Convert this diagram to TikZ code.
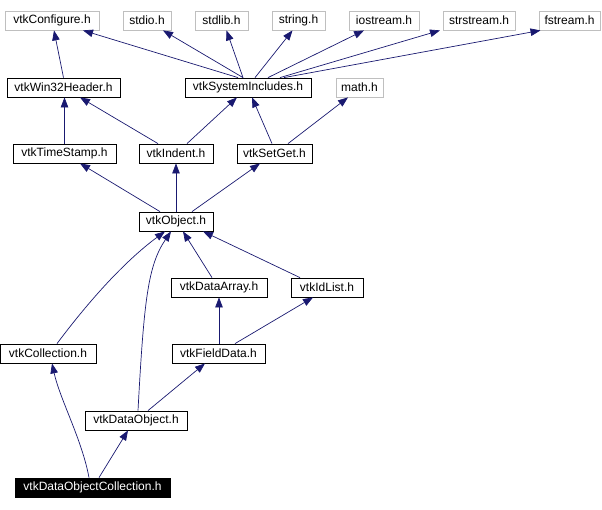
\documentclass[tikz,border=0pt]{standalone}
\usepackage{fontspec}
\setmainfont{Liberation Sans}
\usetikzlibrary{arrows.meta}
\definecolor{edgeblue}{HTML}{191970}
\definecolor{boxgray}{HTML}{BFBFBF}

\begin{document}
\begin{tikzpicture}[
    x=1pt, y=-1pt,
    % Estilo para las cabeceras del proyecto
    filebox/.style={
        draw=black,
        line width=0.8pt,
        fill=white,
        minimum height=19pt,
        inner sep=0pt,
        font=\fontsize{12}{14}\selectfont
    },
    % Estilo para las cabeceras del sistema (borde gris)
    sysbox/.style={
        filebox,
        draw=boxgray
    },
    % Estilo para la cabecera principal
    mainbox/.style={
        filebox,
        fill=black,
        text=white
    },
    % Estilo para las dependencias
    dep/.style={
        draw=edgeblue,
        line width=0.7pt,
        -{Triangle[length=10pt,width=7.5pt]}
    }
]
    \useasboundingbox (0,0) rectangle (602,509);

    % ==========================================
    % CABECERAS DEL SISTEMA (FILA SUPERIOR)
    % ==========================================
    \node[sysbox, minimum width=94pt] (configure) at (52, 20.5) {vtkConfigure.h};
    \node[sysbox, minimum width=48pt] (stdio) at (147, 20.5) {stdio.h};
    \node[sysbox, minimum width=53pt] (stdlib) at (221.5, 20.5) {stdlib.h};
    \node[sysbox, minimum width=53pt] (string) at (298.5, 20.5) {string.h};
    \node[sysbox, minimum width=70pt] (iostream) at (384, 20.5) {iostream.h};
    \node[sysbox, minimum width=72pt] (strstream) at (479, 20.5) {strstream.h};
    \node[sysbox, minimum width=61pt] (fstream) at (569.5, 20.5) {fstream.h};

    % ==========================================
    % SEGUNDA FILA
    % ==========================================
    \node[filebox, minimum width=113pt] (win32) at (63.5, 87.5) {vtkWin32Header.h};
    \node[filebox, minimum width=126pt] (sysinc) at (248, 87.5) {vtkSystemIncludes.h};
    \node[sysbox, minimum width=47pt] (math) at (359.5, 87.5) {math.h};

    % Dependencias hacia la fila superior
    \draw[dep] (win32.north) -- ([xshift=2pt]configure.south);
    \draw[dep] ([xshift=-10pt]sysinc.north) -- ([xshift=31pt]configure.south);
    \draw[dep] ([xshift=-5pt]sysinc.north) -- ([xshift=16pt]stdio.south);
    \draw[dep] ([xshift=-5pt]sysinc.north) -- ([xshift=5pt]stdlib.south);
    \draw[dep] ([xshift=7pt]sysinc.north) -- ([xshift=-6pt]string.south);
    \draw[dep] ([xshift=20pt]sysinc.north) -- ([xshift=-20pt]iostream.south);
    \draw[dep] ([xshift=32pt]sysinc.north) -- ([xshift=-39pt]strstream.south);
    \draw[dep] ([xshift=36pt]sysinc.north) -- ([xshift=-29pt]fstream.south);

    % ==========================================
    % TERCERA FILA
    % ==========================================
    \node[filebox, minimum width=103pt] (timestamp) at (64.5, 153.5) {vtkTimeStamp.h};
    \node[filebox, minimum width=74pt] (indent) at (176, 153.5) {vtkIndent.h};
    \node[filebox, minimum width=75pt] (setget) at (274.5, 153.5) {vtkSetGet.h};

    \draw[dep] (timestamp.north) -- (timestamp.north |- win32.south);
    \draw[dep] ([xshift=-18pt]indent.north) -- ([xshift=16.5pt]win32.south);
    \draw[dep] ([xshift=11pt]indent.north) -- ([xshift=-11pt]sysinc.south);
    \draw[dep] ([xshift=-2.5pt]setget.north) -- ([xshift=4pt]sysinc.south);
    \draw[dep] ([xshift=13.5pt]setget.north) -- ([xshift=-11.5pt]math.south);

    % ==========================================
    % vtkObject
    % ==========================================
    \node[filebox, minimum width=74pt] (object) at (176, 221.5) {vtkObject.h};

    \draw[dep] ([xshift=-16pt]object.north) -- ([xshift=15.5pt]timestamp.south);
    \draw[dep] (object.north) -- (indent.south);
    \draw[dep] ([xshift=16pt]object.north) -- ([xshift=-14.5pt]setget.south);

    % ==========================================
    % CLASES DERIVADAS
    % ==========================================
    \node[filebox, minimum width=96pt] (dataarray) at (219, 287.5) {vtkDataArray.h};
    \node[filebox, minimum width=72pt] (idlist) at (327, 287.5) {vtkIdList.h};
    \node[filebox, minimum width=96pt] (collection) at (48, 353.5) {vtkCollection.h};
    \node[filebox, minimum width=93pt] (fielddata) at (218.5, 353.5) {vtkFieldData.h};
    \node[filebox, minimum width=102pt] (dataobject) at (136, 420.5) {vtkDataObject.h};
    \node[mainbox, minimum width=155pt] (doc) at (92.5, 487.5) {vtkDataObjectCollection.h};

    \draw[dep] ([xshift=-7pt]dataarray.north) -- ([xshift=7pt]object.south);
    \draw[dep] ([xshift=-27pt]idlist.north) -- ([xshift=27pt]object.south);
    \draw[dep] ([xshift=9pt]collection.north) .. controls +(18,-24) and +(-50,37) .. ([xshift=-11pt]object.south);
    \draw[dep] ([xshift=2pt]dataobject.north) .. controls +(6,-111) and +(-23,34) .. ([xshift=-5pt]object.south);
    \draw[dep] ([xshift=0.5pt]fielddata.north) -- (dataarray.south);
    \draw[dep] ([xshift=16.5pt]fielddata.north) -- ([xshift=-14pt]idlist.south);
    \draw[dep] ([xshift=12pt]dataobject.north) -- ([xshift=-13.5pt]fielddata.south);
    \draw[dep] ([xshift=-3.5pt]doc.north) .. controls +(-7,-38) and +(8,36) .. ([xshift=4pt]collection.south);
    \draw[dep] ([xshift=6.5pt]doc.north) -- ([xshift=-8pt]dataobject.south);

\end{tikzpicture}
\end{document}
